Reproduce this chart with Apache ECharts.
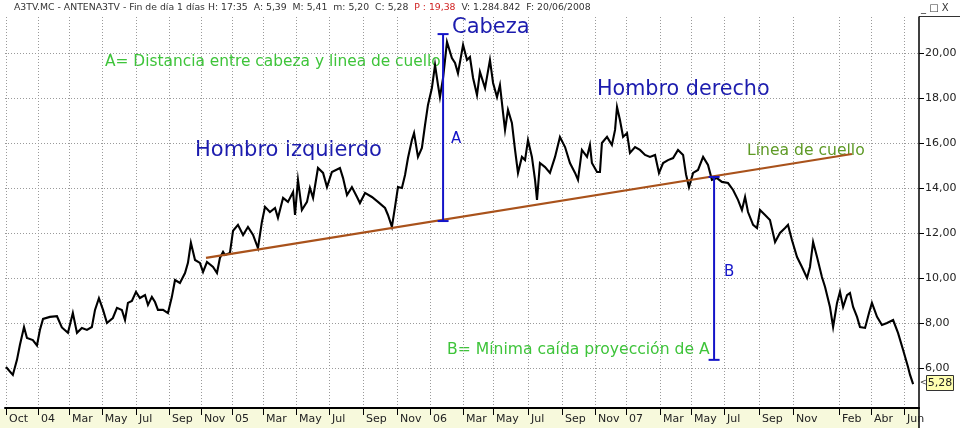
<!DOCTYPE html>
<html>
<head>
<meta charset="utf-8">
<script src="https://cdn.jsdelivr.net/npm/echarts@6/dist/echarts.min.js"></script>
<style>html,body{margin:0;padding:0;background:#fff}#c{width:960px;height:428px}</style>
</head>
<body>
<div id="c"></div>
<script>
// Time in decimal years, daily close of A3TV.MC
const dates = [
2003.837,2003.872,2003.893,2003.908,2003.929,2003.944,2003.974,2003.995,2004.010,2004.026,
2004.061,2004.097,2004.122,2004.153,2004.178,2004.199,2004.224,2004.250,2004.275,2004.291,
2004.311,2004.332,2004.352,2004.382,2004.403,2004.428,2004.444,2004.459,2004.479,2004.500,
2004.520,2004.546,2004.561,2004.581,2004.597,2004.612,2004.638,2004.663,2004.683,2004.699,
2004.724,2004.750,2004.765,2004.780,2004.801,2004.826,2004.842,2004.862,2004.893,2004.913,
2004.928,2004.944,2004.954,2004.979,2004.995,2005.020,2005.046,2005.071,2005.097,2005.122,
2005.142,2005.158,2005.183,2005.209,2005.224,2005.250,2005.275,2005.301,2005.311,2005.326,
2005.346,2005.372,2005.387,2005.403,2005.428,2005.454,2005.474,2005.499,2005.540,2005.556,
2005.576,2005.601,2005.627,2005.642,2005.668,2005.703,2005.734,2005.770,2005.785,2005.805,
2005.821,2005.836,2005.856,2005.872,2005.887,2005.907,2005.918,2005.938,2005.958,2005.974,
2005.989,2006.009,2006.025,2006.040,2006.050,2006.066,2006.086,2006.111,2006.127,2006.142,
2006.168,2006.188,2006.203,2006.219,2006.239,2006.254,2006.280,2006.305,2006.321,2006.341,
2006.356,2006.372,2006.382,2006.397,2006.417,2006.433,2006.448,2006.468,2006.484,2006.499,
2006.519,2006.535,2006.545,2006.560,2006.586,2006.611,2006.637,2006.662,2006.688,2006.713,
2006.739,2006.754,2006.774,2006.800,2006.815,2006.825,2006.851,2006.866,2006.876,2006.902,
2006.927,2006.943,2006.953,2006.968,2006.984,2007.004,2007.019,2007.045,2007.070,2007.096,
2007.121,2007.147,2007.167,2007.188,2007.213,2007.239,2007.264,2007.290,2007.305,2007.320,
2007.341,2007.366,2007.392,2007.417,2007.437,2007.463,2007.488,2007.519,2007.545,2007.570,
2007.590,2007.606,2007.621,2007.647,2007.667,2007.682,2007.708,2007.733,2007.759,2007.784,
2007.810,2007.825,2007.845,2007.871,2007.896,2007.922,2007.937,2007.953,2007.973,2007.998,
2008.014,2008.039,2008.055,2008.075,2008.090,2008.106,2008.126,2008.141,2008.157,2008.177,
2008.192,2008.218,2008.238,2008.253,2008.279,2008.304,2008.330,2008.361,2008.386,2008.412,
2008.437,2008.447,2008.463
];
const prices = [
6.04,5.69,6.36,7.02,7.82,7.33,7.24,7.00,7.69,8.18,
8.27,8.30,7.80,7.56,8.44,7.56,7.78,7.69,7.82,8.58,
9.10,8.58,8.00,8.22,8.67,8.58,8.13,8.89,8.98,9.38,
9.11,9.24,8.80,9.16,8.93,8.58,8.58,8.44,9.16,9.91,
9.78,10.22,10.67,11.56,10.80,10.67,10.27,10.71,10.49,10.22,
10.89,11.16,11.02,11.11,12.10,12.36,11.91,12.27,11.91,11.33,
12.49,13.16,12.93,13.11,12.67,13.56,13.38,13.82,12.80,14.36,
13.02,13.38,14.00,13.56,14.89,14.67,14.04,14.71,14.89,14.44,
13.69,14.04,13.60,13.33,13.78,13.60,13.38,13.11,12.80,12.27,
13.16,14.04,14.00,14.58,15.33,16.13,16.44,15.38,15.78,16.80,
17.69,18.44,19.47,18.58,18.04,18.89,20.49,19.78,19.56,19.10,
20.36,19.69,19.82,18.89,18.13,19.16,18.44,19.69,18.67,18.04,
18.58,17.33,16.58,17.47,16.89,15.69,14.67,15.38,15.24,16.13,
15.38,14.36,13.47,15.11,14.93,14.67,15.38,16.27,15.82,15.11,
14.67,14.36,15.69,15.38,15.91,15.11,14.71,14.71,16.00,16.27,
15.91,16.58,17.60,17.02,16.27,16.44,15.56,15.82,15.69,15.47,
15.38,15.47,14.67,15.11,15.24,15.33,15.69,15.47,14.60,14.04,
14.67,14.80,15.38,15.02,14.36,14.44,14.27,14.22,13.91,13.47,
13.02,13.60,12.93,12.36,12.22,13.02,12.80,12.58,11.60,12.00,
12.22,12.36,11.69,10.93,10.49,10.00,10.49,11.60,10.93,10.04,
9.60,8.71,7.82,8.89,9.38,8.71,9.24,9.33,8.71,8.27,
7.82,7.78,8.44,8.89,8.27,7.91,8.00,8.13,7.56,6.80,
6.04,5.70,5.28
];
// x-axis month ticks (decimal years) and their labels
const tickPos = [2003.837,2004.000,2004.158,2004.326,2004.500,2004.668,2004.831,2004.989,2005.148,2005.316,
2005.484,2005.658,2005.831,2005.999,2006.168,2006.321,2006.499,2006.672,2006.841,2006.999,
2007.172,2007.330,2007.499,2007.677,2007.851,2008.085,2008.248,2008.417];
const tickLabels = ['Oct','04','Mar','May','Jul','Sep','Nov','05','Mar','May','Jul','Sep','Nov','06','Mar','May','Jul','Sep','Nov','07','Mar','May','Jul','Sep','Nov','Feb','Abr','Jun'];
const yTicks = [6,8,10,12,14,16,18,20];
// neckline (Línea de cuello) end points
const necklineT = [2004.857, 2008.151];
const necklineV = [10.89, 15.51];
// measure A (head to neckline) and B (projection below breakout)
const measureA_T = 2006.066, measureA_V = [12.53, 20.84];
const measureB_T = 2007.448, measureB_V = [14.49, 6.36];
const lastClose = 5.28;

const xMin = 2003.832, xMax = 2008.493, yMin = 4.22, yMax = 21.6;

const chart = echarts.init(document.getElementById('c'), null, {renderer:'canvas'});
const fmtX = v => { const i = tickPos.findIndex(t => Math.abs(t - v) < 1e-6); return i >= 0 ? tickLabels[i] : ''; };
const dotted = {color:'#9a9a9a', width:1, type:[1,2]};
const blue = '#1c1cae', lineBlue = '#1414c8', green = '#3ec43a', olive = '#5e9a26';

chart.setOption({
  animation:false,
  backgroundColor:'#ffffff',
  grid:{left:5, right:41, top:17, bottom:20, containLabel:false},
  xAxis:{type:'value', min:xMin, max:xMax,
    axisLine:{show:true, onZero:false, lineStyle:{color:'#000', width:2}},
    axisTick:{show:true, length:7, customValues:tickPos, lineStyle:{color:'#000', width:1}},
    axisLabel:{customValues:tickPos, formatter:fmtX, align:'left', padding:[0,0,0,3], margin:6,
      fontFamily:'DejaVu Sans', fontSize:11, color:'#222'},
    splitLine:{show:true, lineStyle:dotted}},
  yAxis:{type:'value', position:'right', min:yMin, max:yMax,
    axisLine:{show:true, lineStyle:{color:'#000', width:1.5}},
    axisTick:{show:true, length:5, customValues:yTicks, lineStyle:{color:'#000', width:1}},
    axisLabel:{customValues:yTicks, formatter:v => v.toFixed(2).replace('.', ','), align:'left', margin:6,
      fontFamily:'DejaVu Sans', fontSize:11, color:'#222'},
    splitLine:{show:true, lineStyle:dotted}},
  series:[
    {type:'line', name:'A3TV', data:dates.map((d,i)=>[d, prices[i]]), showSymbol:false, symbol:'none',
      lineStyle:{color:'#000', width:2.1, join:'miter'}, z:3, silent:true},
    {type:'line', name:'neckline', data:necklineT.map((t,i)=>[t, necklineV[i]]), symbol:'none',
      lineStyle:{color:'#a9521b', width:2.2}, z:4, silent:true},
    {type:'line', name:'A', data:measureA_V.map(v=>[measureA_T, v]), symbol:'rect', symbolSize:[11,2],
      itemStyle:{color:lineBlue}, lineStyle:{color:lineBlue, width:2}, z:5, silent:true},
    {type:'line', name:'B', data:measureB_V.map(v=>[measureB_T, v]), symbol:'rect', symbolSize:[11,2],
      itemStyle:{color:lineBlue}, lineStyle:{color:lineBlue, width:2}, z:5, silent:true}
  ],
  graphic:[
    {type:'rect', z:-10, shape:{x:0, y:409, width:919, height:19}, style:{fill:'#f7f9dc'}, silent:true},
    {type:'line', shape:{x1:919, y1:408, x2:919, y2:428}, style:{stroke:'#000', lineWidth:1.5}},
    {type:'line', shape:{x1:919, y1:16.5, x2:960, y2:16.5}, style:{stroke:'#333', lineWidth:1}},
    {type:'text', x:14, y:8, style:{text:'{a|A3TV.MC - ANTENA3TV - Fin de día 1 días H: 17:35  A: 5,39  M: 5,41  m: 5,20  C: 5,28  }{p|P : 19,38}{a|  V: 1.284.842  F: 20/06/2008}',
      verticalAlign:'middle', rich:{a:{fontFamily:'DejaVu Sans', fontSize:9.3, fill:'#333'}, p:{fontFamily:'DejaVu Sans', fontSize:9.3, fill:'#d02020'}}}},
    {type:'text', x:921, y:8, style:{text:'_ □ X', fontFamily:'DejaVu Sans', fontSize:10, fill:'#333', verticalAlign:'middle'}},
    {type:'text', x:452, y:28, style:{text:'Cabeza', fontFamily:'DejaVu Sans', fontSize:21, fill:blue, verticalAlign:'middle'}},
    {type:'text', x:105, y:62, style:{text:'A= Distancia entre cabeza y linea de cuello', fontFamily:'DejaVu Sans', fontSize:15.4, fill:green, verticalAlign:'middle'}},
    {type:'text', x:195, y:151, style:{text:'Hombro izquierdo', fontFamily:'DejaVu Sans', fontSize:21, fill:blue, verticalAlign:'middle'}},
    {type:'text', x:597, y:90, style:{text:'Hombro derecho', fontFamily:'DejaVu Sans', fontSize:20.7, fill:blue, verticalAlign:'middle'}},
    {type:'text', x:747, y:151, style:{text:'Línea de cuello', fontFamily:'DejaVu Sans', fontSize:15.6, fill:olive, verticalAlign:'middle'}},
    {type:'text', x:451, y:139, style:{text:'A', fontFamily:'DejaVu Sans', fontSize:15, fill:lineBlue, verticalAlign:'middle'}},
    {type:'text', x:724, y:272, style:{text:'B', fontFamily:'DejaVu Sans', fontSize:15, fill:lineBlue, verticalAlign:'middle'}},
    {type:'text', x:447, y:350, style:{text:'B= Mínima caída proyección de A', fontFamily:'DejaVu Sans', fontSize:15.6, fill:green, verticalAlign:'middle'}},
    {type:'text', x:920, y:383, style:{text:'<', fontFamily:'DejaVu Sans', fontSize:8, fill:'#333', verticalAlign:'middle'}},
    {type:'rect', shape:{x:926.5, y:375.5, width:27, height:15}, style:{fill:'#ffffb0', stroke:'#333', lineWidth:1}},
    {type:'text', x:940, y:383.5, style:{text:lastClose.toFixed(2).replace('.', ','), fontFamily:'DejaVu Sans', fontSize:11, fill:'#222', align:'center', verticalAlign:'middle'}}
  ]
});
</script>
</body>
</html>
